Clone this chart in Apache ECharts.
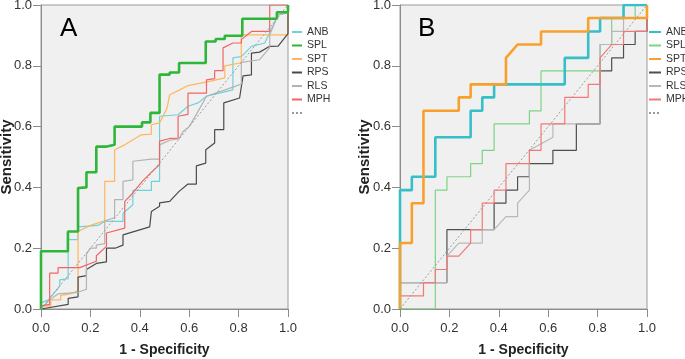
<!DOCTYPE html>
<html>
<head>
<meta charset="utf-8">
<script src="https://cdn.jsdelivr.net/npm/echarts@6/dist/echarts.min.js"></script>
<style>
  html, body { margin: 0; padding: 0; background: #fff; }
  #wrap { position: relative; width: 685px; height: 359px; }
  .panel { position: absolute; top: 0; height: 359px; }
</style>
</head>
<body>
<div id="wrap">
  <div id="chartA" class="panel" style="left:0;width:345px"></div>
  <div id="chartB" class="panel" style="left:345px;width:340px"></div>
</div>
<script>
// ROC 曲线数据 [1-特异度, 灵敏度]
const seriesNames = ['ANB', 'SPL', 'SPT', 'RPS', 'RLS', 'MPH']
const refLine = [[0, 0], [1, 1]]

// 面板 A
const A_ANB = [[0,0],[0,0.02],[0.03,0.03],[0.05,0.05],[0.076,0.075],[0.076,0.096],[0.11,0.1],[0.11,0.228],[0.15,0.228],[0.15,0.27],[0.23,0.275],[0.258,0.288],[0.332,0.288],[0.332,0.315],[0.372,0.343],[0.372,0.39],[0.447,0.39],[0.447,0.42],[0.48,0.42],[0.48,0.634],[0.555,0.639],[0.595,0.667],[0.636,0.678],[0.67,0.7],[0.777,0.721],[0.777,0.826],[0.811,0.83],[0.852,0.864],[0.906,0.875],[0.96,0.968],[1,0.974],[1,1]]
const A_SPL = [[0,0],[0,0.19],[0.109,0.19],[0.109,0.255],[0.15,0.255],[0.15,0.398],[0.184,0.4],[0.184,0.45],[0.224,0.45],[0.224,0.534],[0.262,0.534],[0.262,0.54],[0.298,0.54],[0.298,0.6],[0.409,0.6],[0.409,0.614],[0.443,0.614],[0.443,0.645],[0.48,0.645],[0.48,0.771],[0.521,0.771],[0.521,0.778],[0.559,0.778],[0.559,0.809],[0.667,0.809],[0.667,0.88],[0.707,0.88],[0.707,0.888],[0.744,0.888],[0.744,0.899],[0.815,0.899],[0.815,0.955],[0.955,0.955],[0.955,0.976],[1,0.976],[1,1]]
const A_SPT = [[0,0],[0,0.01],[0.04,0.01],[0.04,0.03],[0.08,0.03],[0.08,0.045],[0.12,0.05],[0.15,0.06],[0.15,0.255],[0.2,0.275],[0.258,0.29],[0.258,0.42],[0.298,0.42],[0.298,0.524],[0.339,0.54],[0.406,0.573],[0.447,0.575],[0.447,0.606],[0.48,0.612],[0.51,0.66],[0.521,0.705],[0.56,0.72],[0.595,0.735],[0.683,0.749],[0.744,0.76],[0.744,0.8],[0.811,0.81],[0.811,0.902],[1,0.902],[1,1]]
const A_RPS = [[0,0],[0,0.005],[0.11,0.015],[0.11,0.035],[0.15,0.04],[0.15,0.105],[0.184,0.11],[0.184,0.13],[0.224,0.15],[0.265,0.155],[0.265,0.2],[0.3,0.2],[0.332,0.21],[0.332,0.244],[0.44,0.27],[0.447,0.321],[0.48,0.338],[0.48,0.349],[0.521,0.354],[0.559,0.387],[0.561,0.392],[0.595,0.411],[0.629,0.411],[0.629,0.471],[0.667,0.48],[0.667,0.524],[0.703,0.546],[0.703,0.59],[0.74,0.59],[0.74,0.678],[0.804,0.694],[0.818,0.767],[0.852,0.77],[0.852,0.842],[0.885,0.845],[0.926,0.864],[0.96,0.865],[1,0.906],[1,1]]
const A_RLS = [[0,0],[0,0.005],[0.035,0.03],[0.07,0.05],[0.15,0.055],[0.15,0.06],[0.184,0.065],[0.184,0.18],[0.2,0.2],[0.224,0.2],[0.224,0.21],[0.258,0.215],[0.258,0.29],[0.298,0.3],[0.298,0.36],[0.332,0.36],[0.332,0.42],[0.372,0.425],[0.372,0.486],[0.447,0.493],[0.48,0.493],[0.48,0.54],[0.521,0.555],[0.559,0.56],[0.575,0.584],[0.6,0.6],[0.636,0.65],[0.67,0.7],[0.777,0.73],[0.811,0.74],[0.811,0.811],[0.885,0.82],[0.926,0.86],[0.926,0.902],[0.96,0.968],[1,0.975],[1,1]]
const A_MPH = [[0,0],[0,0.01],[0.035,0.015],[0.035,0.118],[0.069,0.118],[0.069,0.136],[0.157,0.136],[0.224,0.157],[0.224,0.175],[0.265,0.206],[0.265,0.25],[0.339,0.266],[0.339,0.354],[0.37,0.38],[0.41,0.42],[0.447,0.45],[0.48,0.475],[0.48,0.552],[0.521,0.561],[0.555,0.562],[0.555,0.634],[0.595,0.64],[0.595,0.71],[0.67,0.71],[0.67,0.754],[0.703,0.758],[0.703,0.784],[0.737,0.784],[0.737,0.859],[0.777,0.875],[0.811,0.875],[0.811,0.886],[0.852,0.913],[0.926,0.913],[0.926,1],[1,1]]

// 面板 B
const B_ANB = [[0,0],[0,0.391],[0.048,0.391],[0.048,0.435],[0.143,0.435],[0.143,0.565],[0.286,0.565],[0.286,0.652],[0.333,0.652],[0.333,0.696],[0.381,0.696],[0.381,0.739],[0.667,0.739],[0.667,0.826],[0.762,0.826],[0.762,0.913],[0.81,0.913],[0.81,0.957],[0.905,0.957],[0.905,1],[1,1]]
const B_SPL = [[0,0],[0.143,0],[0.143,0.391],[0.19,0.391],[0.19,0.435],[0.286,0.435],[0.286,0.478],[0.333,0.478],[0.333,0.522],[0.381,0.522],[0.381,0.609],[0.524,0.609],[0.524,0.652],[0.571,0.652],[0.571,0.783],[0.81,0.783],[0.81,0.87],[0.857,0.87],[0.857,0.957],[0.952,0.957],[0.952,1],[1,1]]
const B_SPT = [[0,0],[0,0.217],[0.048,0.217],[0.048,0.348],[0.095,0.348],[0.095,0.652],[0.238,0.652],[0.238,0.696],[0.286,0.696],[0.286,0.739],[0.429,0.739],[0.429,0.826],[0.476,0.87],[0.571,0.87],[0.571,0.913],[0.762,0.913],[0.762,0.957],[1,0.957],[1,1]]
const B_RPS = [[0,0],[0,0.087],[0.19,0.087],[0.19,0.261],[0.381,0.261],[0.381,0.348],[0.429,0.348],[0.429,0.391],[0.476,0.391],[0.476,0.435],[0.524,0.435],[0.524,0.478],[0.619,0.478],[0.619,0.522],[0.714,0.522],[0.714,0.609],[0.81,0.609],[0.81,0.783],[0.857,0.783],[0.857,0.826],[0.905,0.826],[0.905,0.87],[0.952,0.87],[0.952,0.913],[1,0.913],[1,1]]
const B_RLS = [[0,0],[0,0.087],[0.19,0.087],[0.19,0.174],[0.238,0.217],[0.333,0.217],[0.333,0.261],[0.381,0.261],[0.429,0.304],[0.476,0.304],[0.476,0.348],[0.524,0.391],[0.524,0.522],[0.619,0.565],[0.619,0.609],[0.81,0.609],[0.81,0.87],[0.857,0.87],[0.857,0.913],[0.905,0.913],[0.905,1],[1,1]]
const B_MPH = [[0,0],[0,0.043],[0.095,0.043],[0.095,0.087],[0.143,0.087],[0.143,0.13],[0.19,0.13],[0.19,0.174],[0.238,0.174],[0.286,0.217],[0.286,0.261],[0.333,0.261],[0.333,0.348],[0.381,0.348],[0.381,0.391],[0.429,0.391],[0.429,0.478],[0.524,0.478],[0.524,0.522],[0.571,0.522],[0.571,0.609],[0.667,0.609],[0.667,0.696],[0.762,0.696],[0.762,0.739],[0.81,0.739],[0.81,0.826],[0.857,0.87],[0.905,0.87],[0.905,0.913],[1,0.913],[1,1]]

const FONT = 'Liberation Sans, Arial, sans-serif'

function makeOption(cfg) {
  const series = cfg.data.map((d, i) => ({
    name: seriesNames[i],
    type: 'line',
    data: d,
    symbol: 'none',
    silent: true,
    lineStyle: { color: cfg.colors[i], width: cfg.widths[i] },
    itemStyle: { color: cfg.colors[i] },
    z: cfg.widths[i] > 2 ? 3 : 2
  }))
  series.push({
    name: ' ',
    type: 'line',
    data: refLine,
    symbol: 'none',
    silent: true,
    lineStyle: { color: '#9a9a9a', width: 1, type: [2, 2] },
    itemStyle: { color: '#9a9a9a' },
    z: 4
  })
  const axisCommon = {
    type: 'value',
    min: 0,
    max: 1,
    interval: 0.2,
    nameLocation: 'middle',
    nameMoveOverlap: false,
    nameTextStyle: { fontFamily: FONT, fontWeight: 'bold', color: '#222' },
    axisLine: { show: true, lineStyle: { color: '#8c8c8c', width: 1 } },
    axisTick: { show: true, inside: false, length: 8, lineStyle: { color: '#8c8c8c' } },
    axisLabel: { fontFamily: FONT, fontSize: 13, color: '#333', formatter: v => v.toFixed(1) },
    splitLine: { show: false }
  }
  return {
    animation: false,
    backgroundColor: '#fff',
    grid: {
      left: cfg.gridLeft, top: 5, width: 247, height: 304,
      containLabel: false,
      outerBoundsMode: 'none',
      show: true, backgroundColor: '#f0f0f0', borderColor: '#9a9a9a', borderWidth: 1
    },
    xAxis: Object.assign({}, axisCommon, {
      name: '1 - Specificity',
      nameGap: 34,
      nameTextStyle: Object.assign({}, axisCommon.nameTextStyle, { fontSize: 14 }),
      axisLabel: Object.assign({}, axisCommon.axisLabel, { margin: 13 })
    }),
    yAxis: Object.assign({}, axisCommon, {
      name: 'Sensitivity',
      nameGap: cfg.yNameGap,
      nameTextStyle: Object.assign({}, axisCommon.nameTextStyle, { fontSize: 15 }),
      axisLabel: Object.assign({}, axisCommon.axisLabel, { margin: 9 })
    }),
    legend: {
      orient: 'vertical',
      left: cfg.legendLeft,
      top: 26.5,
      padding: 0,
      itemWidth: cfg.legendItemWidth,
      itemHeight: 10,
      itemGap: 2.5,
      selectedMode: false,
      itemStyle: { opacity: 0 },
      textStyle: { fontFamily: FONT, fontSize: 10.5, color: '#333', lineHeight: 10 },
      data: seriesNames.concat([' '])
    },
    graphic: [{
      type: 'text',
      left: cfg.letterX,
      top: 16,
      style: { text: cfg.letter, font: '26px ' + FONT, fill: '#000' }
    }],
    series: series
  }
}

const chartA = echarts.init(document.getElementById('chartA'))
chartA.setOption(makeOption({
  letter: 'A',
  letterX: 60,
  gridLeft: 41,
  yNameGap: 27,
  legendLeft: 291,
  legendItemWidth: 10,
  data: [A_ANB, A_SPL, A_SPT, A_RPS, A_RLS, A_MPH],
  colors: ['#6cd3da', '#2eb63a', '#ffb65e', '#4a4a4a', '#b3b3b3', '#f26464'],
  widths: [1.2, 2.6, 1.2, 1.2, 1.2, 1.2]
}))

const chartB = echarts.init(document.getElementById('chartB'))
chartB.setOption(makeOption({
  letter: 'B',
  letterX: 73,
  gridLeft: 55,
  yNameGap: 28,
  legendLeft: 303,
  legendItemWidth: 12,
  data: [B_ANB, B_SPL, B_SPT, B_RPS, B_RLS, B_MPH],
  colors: ['#37bfc8', '#7dd384', '#f7a12c', '#4f4f4f', '#b8b8b8', '#f27878'],
  widths: [2.6, 1.2, 2.6, 1.2, 1.2, 1.2]
}))
</script>
</body>
</html>
